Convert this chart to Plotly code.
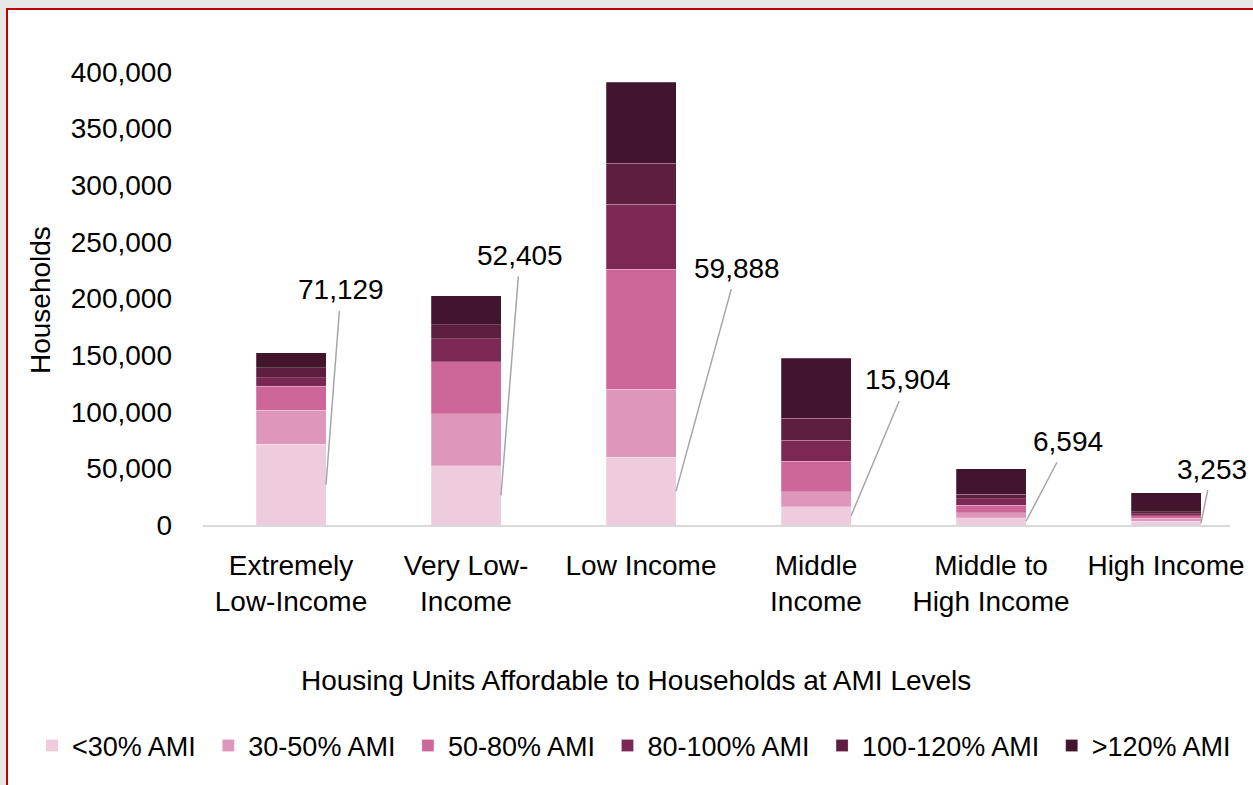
import plotly.graph_objects as go

# ---- data ----
categories = ["Extremely<br>Low-Income", "Very Low-<br>Income", "Low Income",
              "Middle<br>Income", "Middle to<br>High Income", "High Income"]
series_names = ["<30% AMI", "30-50% AMI", "50-80% AMI", "80-100% AMI", "100-120% AMI", ">120% AMI"]
ami_lt30 = [71129, 52405, 59888, 15904, 6594, 3253]
ami_30_50 = [30000, 45900, 60000, 13500, 4400, 2500]
ami_50_80 = [21200, 45900, 106000, 26800, 6500, 2200]
ami_80_100 = [7900, 20300, 57400, 18800, 5900, 1800]
ami_100_120 = [8800, 12400, 36200, 19200, 3800, 1800]
ami_gt120 = [13200, 25600, 71500, 53000, 22700, 16800]
y_ticks = [0, 50000, 100000, 150000, 200000, 250000, 300000, 350000, 400000]

series_values = [ami_lt30, ami_30_50, ami_50_80, ami_80_100, ami_100_120, ami_gt120]
colors = ["#efccdd", "#de97ba", "#cd6699", "#7c2854", "#5e1f3f", "#42152d"]

# label offsets (pixels) for the <30% AMI data callouts
label_dx = [15, 19, 61, 57, 42, 11]
label_dy = [-195, -240, -223, -136, -80, -54]

FONT = "Liberation Sans, Arial, sans-serif"
W, H = 1253, 785
L, R, T, B = 203, 23, 40, 260
pw, ph = W - L - R, H - T - B
px_per_unit = 453 / 400000.0
ymax = ph / px_per_unit

def px_x(p):
    return (p - L) / pw

def px_y(p):
    return (H - B - p) / ph

fig = go.Figure()
x_idx = list(range(len(categories)))
for name, vals, col in zip(series_names, series_values, colors):
    fig.add_trace(go.Bar(
        x=x_idx, y=vals, name=name + "\u00a0",
        marker=dict(color=col, line=dict(color="rgba(255,255,255,0.3)", width=0.75)),
        hoverinfo="skip",
    ))

annotations = []
for i, v in enumerate(ami_lt30):
    annotations.append(dict(
        x=i + 0.2, y=v / 2, xref="x", yref="y",
        text=f"{v:,}", showarrow=True, arrowhead=0, arrowwidth=1.5,
        arrowcolor="#a6a6a6", ax=label_dx[i], ay=label_dy[i],
        font=dict(family=FONT, size=28, color="#000000"), borderpad=5,
    ))
annotations.append(dict(
    x=px_x(636), y=px_y(680), xref="paper", yref="paper",
    text="Housing Units Affordable to Households at AMI Levels", showarrow=False,
    xanchor="center", yanchor="middle",
    font=dict(family=FONT, size=28, color="#000000"),
))
annotations.append(dict(
    x=px_x(40), y=px_y(300), xref="paper", yref="paper",
    text="Households", showarrow=False, textangle=-90,
    xanchor="center", yanchor="middle",
    font=dict(family=FONT, size=28, color="#000000"),
))

fig.update_layout(
    width=W, height=H,
    margin=dict(l=L, r=R, t=T, b=B, pad=0, autoexpand=False),
    barmode="stack", bargap=0.6,
    paper_bgcolor="#e6e6e6", plot_bgcolor="white",
    font=dict(family=FONT, size=28, color="#000000"),
    showlegend=True,
    legend=dict(orientation="h", x=px_x(32), xanchor="left",
                y=px_y(746), yanchor="middle", traceorder="normal",
                font=dict(family=FONT, size=27, color="#000000"),
                bgcolor="rgba(0,0,0,0)"),
    xaxis=dict(tickmode="array", tickvals=x_idx, ticktext=categories,
               range=[(L - 291) / 175.0, (W - R - 291) / 175.0],
               showline=True, linecolor="#d9d9d9", linewidth=2,
               showgrid=False, zeroline=False, ticks="", ticklabelstandoff=14,
               automargin=False,
               tickfont=dict(family=FONT, size=28, color="#000000")),
    yaxis=dict(range=[0, ymax], tickmode="array", tickvals=y_ticks,
               tickformat=",", showline=False, showgrid=False, zeroline=False,
               ticks="", ticklabelstandoff=30, automargin=False,
               tickfont=dict(family=FONT, size=28, color="#000000")),
    annotations=annotations,
    shapes=[dict(type="rect", xref="paper", yref="paper", layer="below",
                 x0=px_x(7), x1=px_x(1320), y0=px_y(9), y1=px_y(900),
                 fillcolor="white", line=dict(color="#c00000", width=2))],
)

fig.write_html("out.html", config={"displayModeBar": False},
               post_script="document.body.style.margin='0';")
